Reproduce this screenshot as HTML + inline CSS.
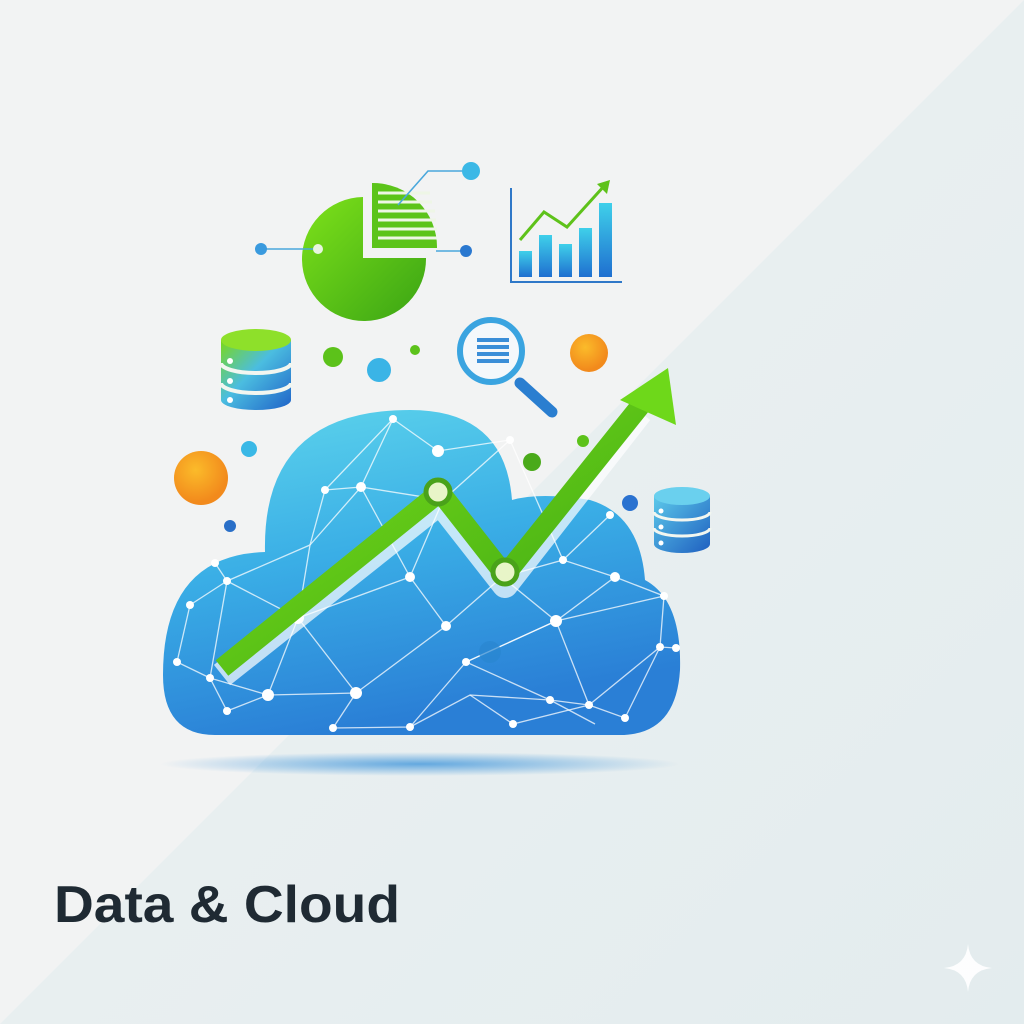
<!DOCTYPE html>
<html><head><style>
html,body{margin:0;padding:0;width:1024px;height:1024px;overflow:hidden;background:#f2f3f3}
svg{display:block}
</style></head><body>
<svg width="1024" height="1024" viewBox="0 0 1024 1024" xmlns="http://www.w3.org/2000/svg">
<defs>
<linearGradient id="bg2" x1="0" y1="0" x2="1" y2="1"><stop offset="0" stop-color="#eef2f3"/><stop offset="1" stop-color="#e3ecee"/></linearGradient>
<linearGradient id="cl" x1="0" y1="0" x2="0.3" y2="1"><stop offset="0" stop-color="#5fd6ec"/><stop offset="0.5" stop-color="#3aaee6"/><stop offset="1" stop-color="#2a7fd6"/></linearGradient>
<linearGradient id="gr" x1="0" y1="0" x2="1" y2="1"><stop offset="0" stop-color="#7ee21a"/><stop offset="1" stop-color="#3aa414"/></linearGradient>
<linearGradient id="bar" x1="0" y1="0" x2="0" y2="1"><stop offset="0" stop-color="#3fd0ea"/><stop offset="1" stop-color="#1f6fd0"/></linearGradient>
<linearGradient id="db" x1="0" y1="0" x2="1" y2="1"><stop offset="0" stop-color="#7ad81a"/><stop offset="0.45" stop-color="#4bbde0"/><stop offset="1" stop-color="#1f62c8"/></linearGradient>
<linearGradient id="db2" x1="0" y1="0" x2="1" y2="1"><stop offset="0" stop-color="#5cc9ea"/><stop offset="1" stop-color="#1f5fc0"/></linearGradient>
<radialGradient id="sh" cx="0.5" cy="0.5" r="0.5"><stop offset="0" stop-color="#2a8ad8" stop-opacity="0.7"/><stop offset="1" stop-color="#2a8ad8" stop-opacity="0"/></radialGradient>
<radialGradient id="or" cx="0.4" cy="0.35" r="0.6"><stop offset="0" stop-color="#fbbb2a"/><stop offset="1" stop-color="#f28a1c"/></radialGradient>
</defs>
<polygon points="1024,0 1024,1024 0,1024" fill="url(#bg2)"/>
<ellipse cx="420" cy="764" rx="260" ry="12" fill="url(#sh)"/>
<!-- cloud -->
<path d="M215,735 Q163,735 163,675 Q163,555 265,552 Q262,410 410,410 Q505,410 512,500 Q540,492 590,500 Q640,515 645,580 Q682,600 680,670 Q676,735 620,735 Z" fill="url(#cl)"/>
<g stroke="#ffffff" stroke-opacity="0.75" stroke-width="1.3" fill="none">
<path d="M393,419 L438,451 L510,440 L443,500 L361,487 L393,419 L325,490 L361,487 L310,545 L325,490"/>
<path d="M215,563 L227,581 L190,605 L177,662 L210,678 L227,581 L310,545 L298,618 L227,581"/>
<path d="M298,618 L356,693 L268,695 L210,678 L227,711 L268,695 L298,618 L410,577 L446,626 L356,693"/>
<path d="M356,693 L333,728 L410,727 L466,662 L556,621 L502,577 L446,626"/>
<path d="M410,727 L470,695 L550,700 L466,662 L556,621 L615,577 L664,596 L556,621 L589,705 L550,700 L595,724"/>
<path d="M615,577 L563,560 L610,515 L563,560 L502,577 M664,596 L660,647 L589,705 L625,718 L660,647 L676,648 M470,695 L513,724 L589,705"/>
<path d="M443,500 L410,577 M361,487 L410,577 M510,440 L563,560"/>
</g>
<g fill="#ffffff">
<circle cx="393" cy="419" r="4"/><circle cx="438" cy="451" r="6"/><circle cx="361" cy="487" r="5"/><circle cx="325" cy="490" r="4"/><circle cx="510" cy="440" r="4"/>
<circle cx="215" cy="563" r="4"/><circle cx="227" cy="581" r="4"/><circle cx="190" cy="605" r="4"/><circle cx="177" cy="662" r="4"/><circle cx="210" cy="678" r="4"/>
<circle cx="298" cy="618" r="6"/><circle cx="268" cy="695" r="6"/><circle cx="356" cy="693" r="6"/><circle cx="227" cy="711" r="4"/><circle cx="410" cy="577" r="5"/>
<circle cx="446" cy="626" r="5"/><circle cx="333" cy="728" r="4"/><circle cx="410" cy="727" r="4"/><circle cx="466" cy="662" r="4"/><circle cx="556" cy="621" r="6"/>
<circle cx="550" cy="700" r="4"/><circle cx="589" cy="705" r="4"/><circle cx="615" cy="577" r="5"/><circle cx="664" cy="596" r="4"/><circle cx="660" cy="647" r="4"/>
<circle cx="676" cy="648" r="4"/><circle cx="513" cy="724" r="4"/><circle cx="625" cy="718" r="4"/><circle cx="563" cy="560" r="4"/><circle cx="610" cy="515" r="4"/>
</g>
<circle cx="490" cy="652" r="11" fill="#2a86d0" opacity="0.7"/>
<!-- arrow -->
<path d="M222,675 L440,502 L505,585 L640,412" fill="none" stroke="#ffffff" stroke-opacity="0.7" stroke-width="26" stroke-linejoin="round"/>
<path d="M222,668 L440,492 L505,575 L645,400" fill="none" stroke="url(#gr)" stroke-width="20" stroke-linejoin="round"/>
<polygon points="668,368 676,425 620,400" fill="#6ed81a"/>
<circle cx="438" cy="492" r="12" fill="#e8f5c8" stroke="#4aa21a" stroke-width="5"/>
<circle cx="505" cy="572" r="12" fill="#e8f5c8" stroke="#4aa21a" stroke-width="5"/>
<!-- pie -->
<path d="M363,197 A62,62 0 1 0 426,258 L363,258 Z" fill="url(#gr)"/>
<path d="M372,183 A64,64 0 0 1 437,248 L372,248 Z" fill="#5cc41a"/>
<g stroke="#eef6e6" stroke-width="3"><line x1="378" y1="193" x2="430" y2="193"/><line x1="378" y1="202" x2="432" y2="202"/><line x1="378" y1="211" x2="435" y2="211"/><line x1="378" y1="220" x2="436" y2="220"/><line x1="378" y1="229" x2="437" y2="229"/><line x1="378" y1="238" x2="437" y2="238"/></g>
<g stroke="#4aa8dc" stroke-width="1.6" fill="none"><polyline points="398,205 428,171 470,171"/><line x1="262" y1="249" x2="318" y2="249"/><line x1="436" y1="251" x2="466" y2="251"/></g>
<circle cx="471" cy="171" r="9" fill="#3cb8e6"/><circle cx="261" cy="249" r="6" fill="#3a9ade"/><circle cx="318" cy="249" r="5" fill="#e8f5e0"/><circle cx="466" cy="251" r="6" fill="#2a78d0"/>
<!-- bar chart -->
<polyline points="511,188 511,282 622,282" fill="none" stroke="#2f78c8" stroke-width="2"/>
<rect x="519" y="251" width="13" height="26" fill="url(#bar)"/><rect x="539" y="235" width="13" height="42" fill="url(#bar)"/><rect x="559" y="244" width="13" height="33" fill="url(#bar)"/><rect x="579" y="228" width="13" height="49" fill="url(#bar)"/><rect x="599" y="203" width="13" height="74" fill="url(#bar)"/>
<polyline points="520,240 544,212 567,227 605,185" fill="none" stroke="#5ec21a" stroke-width="3"/>
<polygon points="610,180 597,184 607,194" fill="#5ec21a"/>
<!-- db left -->
<path d="M221,340 L221,400 A35,10 0 0 0 291,400 L291,340 Z" fill="url(#db)"/>
<ellipse cx="256" cy="340" rx="35" ry="11" fill="#8ee02a"/>
<g stroke="#f2f6f0" stroke-width="4" fill="none"><path d="M221,363 A35,10 0 0 0 291,363"/><path d="M221,383 A35,10 0 0 0 291,383"/></g>
<circle cx="230" cy="361" r="3" fill="#fff"/><circle cx="230" cy="381" r="3" fill="#fff"/><circle cx="230" cy="400" r="3" fill="#fff"/>
<!-- db right -->
<path d="M654,496 L654,544 A28,9 0 0 0 710,544 L710,496 Z" fill="url(#db2)"/>
<ellipse cx="682" cy="496" rx="28" ry="9" fill="#6ad0ee"/>
<g stroke="#f2f6f0" stroke-width="3" fill="none"><path d="M654,512 A28,8 0 0 0 710,512"/><path d="M654,528 A28,8 0 0 0 710,528"/></g>
<circle cx="661" cy="511" r="2.5" fill="#fff"/><circle cx="661" cy="527" r="2.5" fill="#fff"/><circle cx="661" cy="543" r="2.5" fill="#fff"/>
<!-- magnifier -->
<line x1="520" y1="383" x2="552" y2="412" stroke="#2a7ed0" stroke-width="11" stroke-linecap="round"/>
<circle cx="491" cy="351" r="31" fill="#f4f8fb" stroke="#3aa4e0" stroke-width="6"/>
<g fill="#3a8ed8"><rect x="477" y="338" width="32" height="4"/><rect x="477" y="345" width="32" height="4"/><rect x="477" y="352" width="32" height="4"/><rect x="477" y="359" width="32" height="4"/></g>
<!-- dots -->
<circle cx="333" cy="357" r="10" fill="#5cc21a"/><circle cx="379" cy="370" r="12" fill="#3ab4e6"/><circle cx="415" cy="350" r="5" fill="#5cc21a"/>
<circle cx="589" cy="353" r="19" fill="url(#or)"/><circle cx="201" cy="478" r="27" fill="url(#or)"/>
<circle cx="249" cy="449" r="8" fill="#3ab8e6"/><circle cx="230" cy="526" r="6" fill="#2a6fc8"/><circle cx="583" cy="441" r="6" fill="#5cc21a"/><circle cx="532" cy="462" r="9" fill="#4aaa1a"/><circle cx="630" cy="503" r="8" fill="#2a72d0"/>
<!-- title -->
<text x="54" y="922" font-family="Liberation Sans, sans-serif" font-weight="bold" font-size="52" fill="#1f2a33" textLength="346" lengthAdjust="spacingAndGlyphs">Data &amp; Cloud</text>
<path d="M968,944 Q970,966 992,968 Q970,970 968,992 Q966,970 944,968 Q966,966 968,944 Z" fill="#ffffff" opacity="0.9"/>
</svg>
</body></html>
